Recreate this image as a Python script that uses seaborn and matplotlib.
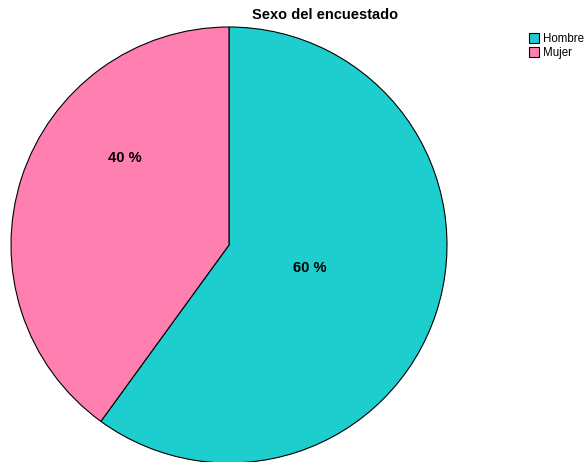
import matplotlib
matplotlib.use("Agg")
import matplotlib.pyplot as plt
import seaborn as sns

# data
categories = ["Hombre", "Mujer"]
percents = [60, 40]
colors = ["#1ECDCD", "#FF80B0"]
# where SPSS put the percent labels (data units, pie radius = 1)
label_pos = [(0.37, -0.105), (-0.48, 0.40)]

sns.set_style("white")
plt.rcParams["font.family"] = ["Liberation Sans", "DejaVu Sans"]
plt.rcParams["text.color"] = "black"

fig = plt.figure(figsize=(5.86, 4.62), dpi=100)
ax = fig.add_axes([11 / 586, -1 / 462, 436 / 586, 436 / 462])

wedges, texts, autotexts = ax.pie(
    percents, colors=colors, startangle=90, counterclock=False,
    autopct="%d %%", radius=1,
    wedgeprops=dict(edgecolor="black", linewidth=0.8),
    textprops=dict(fontsize=10.5, fontweight="bold", color="black"),
)
for t, p in zip(autotexts, label_pos):
    t.set_position(p)
ax.set_xlim(-1, 1)
ax.set_ylim(-1, 1)
ax.set_aspect("equal")

fig.text(325 / 586, 1 - 15 / 462, "Sexo del encuestado", ha="center", va="center",
         fontsize=10.5, fontweight="bold", color="black")

leg = fig.legend(wedges, categories, loc="upper left",
                 bbox_to_anchor=(521 / 586, 1 - 25 / 462), frameon=False,
                 fontsize=8.3, handlelength=0.9, handleheight=0.9,
                 handletextpad=0.3, labelspacing=0.15, borderpad=0.2,
                 labelcolor="black")

fig.savefig("out.png", dpi=100)
